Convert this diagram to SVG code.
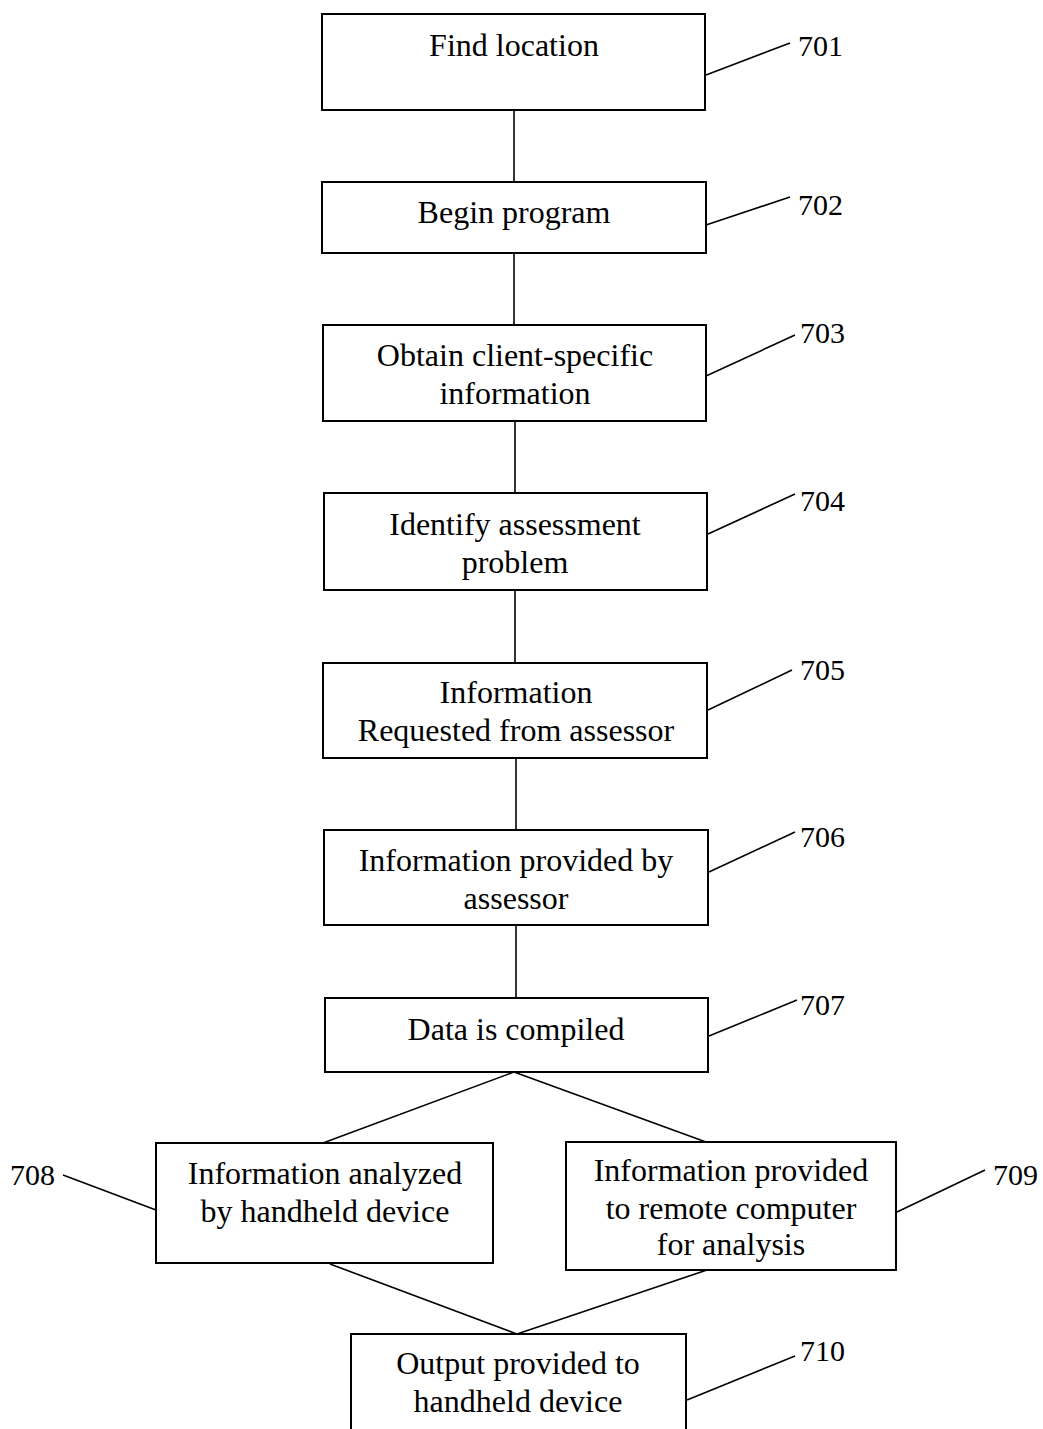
<svg xmlns="http://www.w3.org/2000/svg" width="1043" height="1429" viewBox="0 0 1043 1429">
<style>
.box{fill:#fff;stroke:#000;stroke-width:2}
.ln{stroke:#000;stroke-width:1.6;fill:none}
text{font-family:"Liberation Serif","Times New Roman",serif;font-size:30px;fill:#000}
.t{text-anchor:middle;font-size:32px}
</style>
<rect width="1043" height="1429" fill="#fff"/>
<g id="connectors">
<line class="ln" x1="514" y1="110" x2="514" y2="182"/>
<line class="ln" x1="514" y1="253" x2="514" y2="325"/>
<line class="ln" x1="515" y1="421" x2="515" y2="493"/>
<line class="ln" x1="515" y1="590" x2="515" y2="663"/>
<line class="ln" x1="516" y1="758" x2="516" y2="830"/>
<line class="ln" x1="516" y1="925" x2="516" y2="998"/>
<line class="ln" x1="514" y1="1072" x2="323" y2="1143"/>
<line class="ln" x1="514" y1="1072" x2="706" y2="1142"/>
<line class="ln" x1="330" y1="1264" x2="517" y2="1334"/>
<line class="ln" x1="707" y1="1270" x2="517" y2="1334"/>
<line class="ln" x1="706" y1="75" x2="790" y2="43"/>
<line class="ln" x1="706" y1="225" x2="790" y2="197"/>
<line class="ln" x1="706" y1="376" x2="795" y2="335"/>
<line class="ln" x1="708" y1="534" x2="795" y2="494"/>
<line class="ln" x1="708" y1="710" x2="792" y2="670"/>
<line class="ln" x1="709" y1="872" x2="795" y2="832"/>
<line class="ln" x1="709" y1="1036" x2="797" y2="1000"/>
<line class="ln" x1="63" y1="1175" x2="156" y2="1210"/>
<line class="ln" x1="897" y1="1212" x2="985" y2="1170"/>
<line class="ln" x1="687" y1="1400" x2="795" y2="1356"/>
</g>
<g id="n701"><rect class="box" x="322" y="14" width="383" height="96"/><text class="t" x="514" y="56">Find location</text><text x="798" y="56">701</text></g>
<g id="n702"><rect class="box" x="322" y="182" width="384" height="71"/><text class="t" x="514" y="223">Begin program</text><text x="798" y="215">702</text></g>
<g id="n703"><rect class="box" x="323" y="325" width="383" height="96"/><text class="t" x="515" y="366">Obtain client-specific</text><text class="t" x="515" y="404">information</text><text x="800" y="343">703</text></g>
<g id="n704"><rect class="box" x="324" y="493" width="383" height="97"/><text class="t" x="515" y="535">Identify assessment</text><text class="t" x="515" y="573">problem</text><text x="800" y="511">704</text></g>
<g id="n705"><rect class="box" x="323" y="663" width="384" height="95"/><text class="t" x="516" y="703">Information</text><text class="t" x="516" y="741">Requested from assessor</text><text x="800" y="680">705</text></g>
<g id="n706"><rect class="box" x="324" y="830" width="384" height="95"/><text class="t" x="516" y="871">Information provided by</text><text class="t" x="516" y="909">assessor</text><text x="800" y="847">706</text></g>
<g id="n707"><rect class="box" x="325" y="998" width="383" height="74"/><text class="t" x="516" y="1040">Data is compiled</text><text x="800" y="1015">707</text></g>
<g id="n708"><rect class="box" x="156" y="1143" width="337" height="120"/><text class="t" x="325" y="1184">Information analyzed</text><text class="t" x="325" y="1222">by handheld device</text><text x="10" y="1185">708</text></g>
<g id="n709"><rect class="box" x="566" y="1142" width="330" height="128"/><text class="t" x="731" y="1181">Information provided</text><text class="t" x="731" y="1219">to remote computer</text><text class="t" x="731" y="1255">for analysis</text><text x="993" y="1185">709</text></g>
<g id="n710"><path class="box" d="M351,1430 V1334 H686 V1430"/><text class="t" x="518" y="1374">Output provided to</text><text class="t" x="518" y="1412">handheld device</text><text x="800" y="1361">710</text></g>
</svg>
